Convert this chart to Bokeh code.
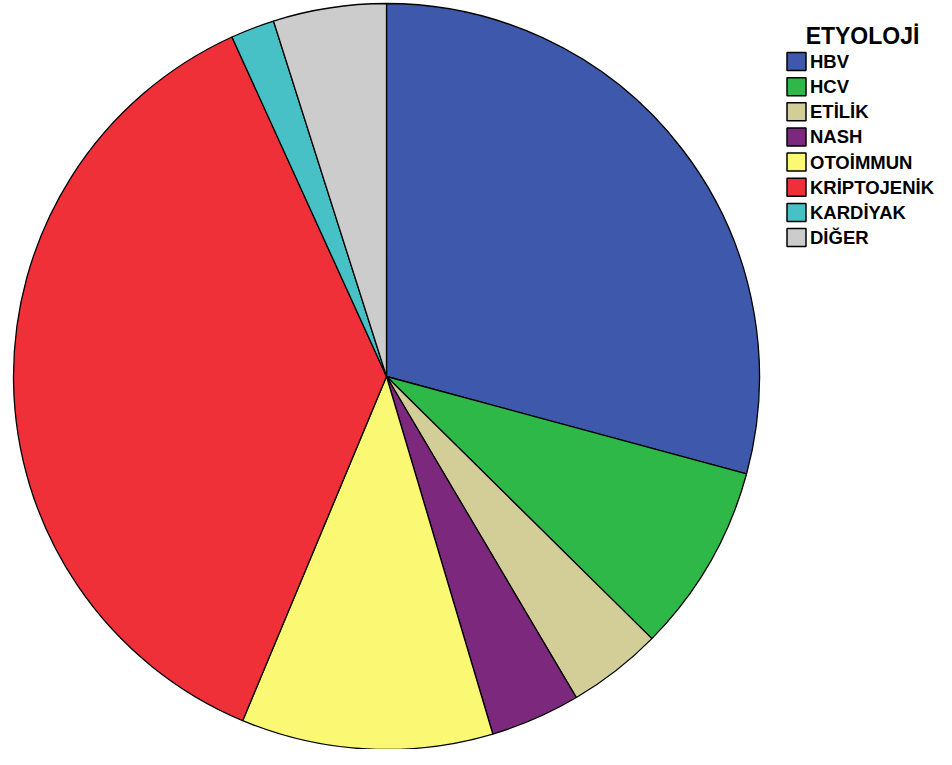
import numpy as np
from bokeh.plotting import figure
from bokeh.models import ColumnDataSource, Range1d
from bokeh.core.properties import value
from bokeh.embed import file_html
from bokeh.resources import INLINE

# Data (percent shares)
categories = ["HBV", "HCV", "ETİLİK", "NASH", "OTOİMMUN", "KRİPTOJENİK", "KARDİYAK", "DİĞER"]
shares = [29.2, 8.2, 4.1, 3.9, 10.9, 36.9, 1.9, 4.9]
colors = ["#3e58ac", "#2eb848", "#d3ce97", "#7b287d", "#fbf873", "#ef3038", "#48c1c6", "#cccccc"]
legend_title = "ETYOLOJİ"

W, H = 936, 749
p = figure(width=W, height=H, output_backend="svg", toolbar_location=None,
           x_range=Range1d(0, W), y_range=Range1d(0, H), min_border=0)
p.axis.visible = False
p.grid.visible = False
p.outline_line_color = None
p.background_fill_color = "white"

vals = np.array(shares, dtype=float)
frac = vals / vals.sum()
cum = np.concatenate([[0], np.cumsum(frac)])
start = np.pi / 2 - cum[:-1] * 2 * np.pi
end = np.pi / 2 - cum[1:] * 2 * np.pi

cx, cy, r = 386, H - 376, 373
src = ColumnDataSource(dict(start=start, end=end, color=colors, cat=categories))
p.wedge(x=cx, y=cy, radius=r, start_angle="start", end_angle="end", direction="clock",
        fill_color="color", line_color="black", line_width=1.3, source=src)

# Legend drawn manually
n = len(categories)
row_y = [H - (61 + 25.15 * i) for i in range(n)]
leg = ColumnDataSource(dict(x=[796.0] * n, y=row_y, tx=[809.5] * n, color=colors, cat=categories))
p.rect(x="x", y="y", width=19, height=18, fill_color="color", line_color="black",
       line_width=1.5, source=leg)
p.text(x="tx", y="y", text="cat", source=leg, text_baseline="middle", text_align="left",
       text_font=value("Liberation Sans"), text_font_style="bold", text_font_size="18.5px",
       text_color="black")
p.text(x=[862], y=[H - 35], text=[legend_title], text_baseline="alphabetic", text_align="center",
       text_font=value("Liberation Sans"), text_font_style="bold", text_font_size="23px",
       text_color="black")

open("out.html", "w").write(file_html(p, INLINE))
